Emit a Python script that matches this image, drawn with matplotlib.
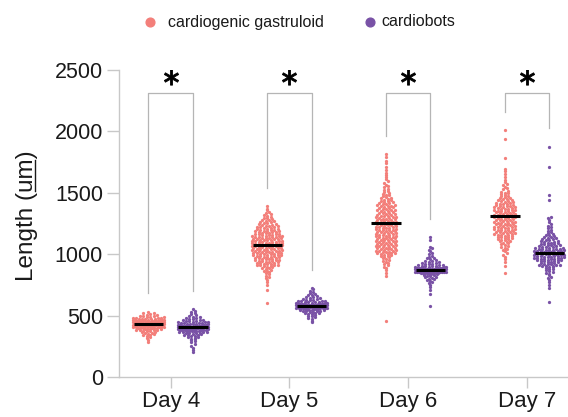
import numpy as np
import matplotlib.pyplot as plt
from matplotlib.lines import Line2D

plt.rcParams['font.family'] = ['Liberation Sans', 'DejaVu Sans']

days = ['Day 4', 'Day 5', 'Day 6', 'Day 7']
labels = ['cardiogenic gastruloid', 'cardiobots']
colors = ['#F37F7A', '#7952A6']

d4_gastruloid = [288, 302, 315, 324, 332, 339, 345, 350, 354, 358, 362, 366, 369, 372, 375, 378,
                 380, 382, 384, 386, 388, 390, 392, 393, 395, 397, 398, 400, 401, 403, 404, 405,
                 407, 408, 409, 411, 412, 413, 414, 416, 417, 418, 419, 420, 421, 422, 423, 424,
                 425, 426, 427, 428, 429, 430, 431, 432, 433, 434, 435, 436, 437, 438, 439, 440,
                 441, 442, 443, 444, 445, 446, 447, 448, 449, 450, 451, 452, 453, 454, 455, 456,
                 457, 458, 459, 460, 461, 463, 464, 465, 467, 468, 470, 471, 473, 474, 476, 478,
                 479, 481, 483, 486, 488, 491, 494, 497, 500, 504, 508, 513, 519, 525, 531]
d4_cardiobots = [206, 222, 240, 256, 270, 282, 291, 299, 306, 312, 318, 323, 328, 332, 336, 340,
                 343, 346, 349, 352, 355, 357, 359, 361, 363, 365, 367, 369, 371, 372, 374, 375,
                 377, 378, 380, 381, 383, 384, 385, 386, 388, 389, 390, 391, 392, 393, 394, 395,
                 396, 397, 398, 399, 400, 401, 402, 403, 404, 405, 406, 407, 408, 409, 410, 411,
                 412, 413, 414, 415, 416, 417, 418, 419, 420, 421, 423, 424, 425, 427, 428, 430,
                 431, 433, 434, 436, 438, 440, 442, 444, 446, 448, 450, 453, 455, 458, 461, 464,
                 467, 470, 474, 478, 482, 487, 492, 498, 505, 512, 520, 530, 541, 554]
d5_gastruloid = [605, 708, 748, 772, 790, 803, 815, 826, 836, 845, 853, 860, 867, 873, 879, 884,
                 889, 894, 898, 902, 905, 908, 911, 913, 916, 919, 921, 924, 927, 929, 932, 935,
                 937, 940, 942, 945, 947, 950, 952, 955, 957, 960, 962, 964, 967, 969, 971, 974,
                 976, 978, 981, 983, 985, 987, 990, 992, 994, 996, 998, 1000, 1003, 1005, 1007,
                 1009, 1011, 1013, 1015, 1017, 1019, 1021, 1023, 1025, 1027, 1029, 1031, 1033,
                 1035, 1037, 1039, 1041, 1043, 1045, 1047, 1049, 1051, 1053, 1055, 1057, 1059,
                 1061, 1063, 1065, 1067, 1069, 1071, 1073, 1075, 1077, 1079, 1081, 1083, 1085,
                 1087, 1089, 1091, 1093, 1095, 1097, 1099, 1101, 1103, 1105, 1107, 1109, 1111,
                 1113, 1115, 1117, 1119, 1121, 1123, 1125, 1127, 1129, 1131, 1133, 1135, 1137,
                 1139, 1141, 1143, 1145, 1147, 1149, 1152, 1154, 1156, 1159, 1161, 1163, 1166,
                 1168, 1170, 1173, 1175, 1177, 1180, 1182, 1185, 1187, 1190, 1192, 1195, 1197,
                 1200, 1203, 1206, 1209, 1212, 1215, 1218, 1221, 1224, 1227, 1230, 1233, 1236,
                 1240, 1243, 1247, 1251, 1255, 1259, 1263, 1267, 1271, 1276, 1281, 1286, 1291,
                 1297, 1303, 1310, 1317, 1325, 1334, 1344, 1356, 1372, 1392]
d5_cardiobots = [448, 460, 470, 479, 487, 494, 500, 505, 510, 514, 518, 522, 525, 528, 531, 534,
                 537, 539, 541, 543, 545, 547, 549, 551, 552, 554, 555, 557, 558, 559, 560, 561,
                 562, 563, 564, 565, 566, 567, 568, 569, 570, 571, 572, 573, 574, 575, 576, 577,
                 578, 579, 580, 581, 582, 583, 584, 585, 586, 587, 588, 589, 590, 591, 592, 593,
                 594, 595, 596, 597, 598, 600, 601, 603, 604, 606, 607, 609, 611, 613, 615, 617,
                 619, 621, 624, 627, 630, 633, 636, 640, 644, 648, 653, 658, 664, 670, 677, 685,
                 694, 704, 714, 725]
d6_gastruloid = [456, 822, 848, 868, 884, 898, 910, 921, 931, 940, 948, 955, 962, 968, 974, 979,
                 984, 988, 992, 996, 1000, 1003, 1006, 1009, 1012, 1015, 1018, 1021, 1024, 1027,
                 1030, 1033, 1036, 1039, 1042, 1045, 1048, 1051, 1054, 1057, 1060, 1063, 1066,
                 1069, 1072, 1075, 1078, 1081, 1084, 1087, 1090, 1093, 1096, 1099, 1101, 1104,
                 1107, 1110, 1113, 1116, 1119, 1122, 1125, 1128, 1131, 1134, 1137, 1140, 1143,
                 1146, 1149, 1151, 1154, 1157, 1160, 1163, 1166, 1169, 1172, 1175, 1178, 1181,
                 1184, 1187, 1190, 1193, 1196, 1199, 1201, 1204, 1207, 1210, 1213, 1216, 1219,
                 1222, 1225, 1228, 1231, 1234, 1237, 1240, 1243, 1246, 1249, 1251, 1254, 1257,
                 1260, 1263, 1266, 1269, 1272, 1275, 1278, 1281, 1284, 1287, 1290, 1293, 1296,
                 1299, 1302, 1305, 1308, 1311, 1314, 1318, 1321, 1325, 1328, 1332, 1335, 1339,
                 1343, 1347, 1351, 1354, 1357, 1361, 1364, 1368, 1371, 1375, 1378, 1382, 1385,
                 1389, 1392, 1396, 1399, 1403, 1407, 1411, 1415, 1419, 1423, 1427, 1431, 1435,
                 1440, 1445, 1450, 1455, 1461, 1467, 1473, 1479, 1486, 1493, 1500, 1508, 1516,
                 1525, 1534, 1544, 1555, 1567, 1580, 1594, 1609, 1625, 1643, 1663, 1686, 1712,
                 1740, 1760, 1790, 1816]
d6_cardiobots = [578, 676, 712, 735, 750, 762, 772, 781, 789, 796, 802, 808, 813, 818, 822, 826,
                 830, 833, 836, 839, 842, 844, 845, 846, 847, 848, 849, 850, 851, 852, 853, 854,
                 855, 856, 857, 858, 859, 860, 861, 862, 863, 864, 865, 866, 867, 868, 869, 870,
                 871, 872, 873, 874, 875, 876, 877, 878, 879, 880, 881, 882, 883, 884, 885, 886,
                 887, 888, 889, 890, 891, 892, 894, 896, 898, 900, 902, 904, 906, 908, 911, 914,
                 917, 920, 923, 926, 930, 934, 938, 943, 948, 953, 959, 965, 972, 980, 989, 999,
                 1010, 1022, 1035, 1048, 1060, 1115, 1140]
d7_gastruloid = [850, 905, 938, 962, 981, 997, 1011, 1023, 1034, 1044, 1053, 1061, 1069, 1076,
                 1083, 1089, 1095, 1100, 1104, 1108, 1112, 1116, 1120, 1124, 1128, 1132, 1136,
                 1140, 1144, 1148, 1151, 1154, 1157, 1160, 1163, 1166, 1169, 1172, 1175, 1178,
                 1181, 1184, 1187, 1190, 1193, 1196, 1199, 1201, 1204, 1207, 1210, 1213, 1216,
                 1219, 1222, 1225, 1228, 1231, 1234, 1237, 1240, 1243, 1246, 1249, 1251, 1254,
                 1257, 1260, 1263, 1266, 1269, 1272, 1275, 1278, 1281, 1284, 1287, 1290, 1293,
                 1296, 1299, 1301, 1304, 1307, 1310, 1313, 1316, 1319, 1322, 1325, 1328, 1331,
                 1334, 1337, 1340, 1343, 1346, 1349, 1351, 1354, 1357, 1360, 1363, 1366, 1369,
                 1372, 1375, 1378, 1381, 1384, 1387, 1390, 1393, 1396, 1399, 1402, 1405, 1409,
                 1412, 1416, 1419, 1423, 1426, 1430, 1434, 1438, 1442, 1446, 1450, 1455, 1460,
                 1465, 1470, 1476, 1482, 1488, 1495, 1502, 1510, 1518, 1527, 1537, 1548, 1560,
                 1574, 1590, 1608, 1630, 1655, 1675, 1690, 1783, 1938, 2011]
d7_cardiobots = [613, 725, 750, 772, 790, 805, 818, 829, 839, 848, 856, 863, 870, 876, 882, 887,
                 892, 897, 900, 903, 906, 909, 912, 915, 918, 921, 924, 927, 930, 933, 936, 939,
                 942, 945, 948, 950, 952, 954, 956, 958, 960, 962, 964, 966, 968, 970, 972, 974,
                 976, 978, 980, 982, 984, 986, 988, 990, 992, 994, 996, 998, 1000, 1002, 1004,
                 1006, 1008, 1010, 1012, 1014, 1016, 1018, 1020, 1022, 1024, 1026, 1028, 1030,
                 1032, 1034, 1036, 1038, 1040, 1042, 1044, 1046, 1048, 1050, 1053, 1056, 1059,
                 1062, 1065, 1068, 1071, 1074, 1077, 1080, 1083, 1086, 1089, 1092, 1095, 1098,
                 1101, 1105, 1109, 1113, 1117, 1121, 1125, 1129, 1133, 1138, 1143, 1148, 1154,
                 1160, 1167, 1174, 1182, 1191, 1200, 1210, 1221, 1233, 1246, 1260, 1276, 1292,
                 1305, 1441, 1482, 1710, 1875]

gastruloid_mean = [430, 1078, 1258, 1310]
cardiobots_mean = [408, 578, 872, 1010]

groups = [[d4_gastruloid, d4_cardiobots], [d5_gastruloid, d5_cardiobots],
          [d6_gastruloid, d6_cardiobots], [d7_gastruloid, d7_cardiobots]]
means = [gastruloid_mean, cardiobots_mean]


def swarm_x(vals, center, row_h=19.5, step=0.029, half=0.128):
    # spread points sharing a row sideways, Prism style, capped width
    vals = np.asarray(vals, float)
    xs = np.full(len(vals), float(center))
    rows = np.floor(vals / row_h)
    for r in np.unique(rows):
        idx = np.where(rows == r)[0]
        n = len(idx)
        if n < 2:
            continue
        d = min(step, 2 * half / (n - 1))
        offs = (np.arange(n) - (n - 1) / 2) * d
        offs = offs[np.argsort(np.abs(offs), kind='stable')]
        xs[idx] = center + offs
    return xs


fig = plt.figure(figsize=(5.68, 4.17), dpi=100)
ax = fig.add_axes([119 / 568, 40 / 417, 449 / 568, 307 / 417])

dodge = 0.187
for i in range(len(days)):
    tops = []
    for j in range(2):
        xc = i + (j - 0.5) * 2 * dodge
        vals = groups[i][j]
        ax.scatter(swarm_x(vals, xc), vals, s=5.5, color=colors[j], linewidths=0, zorder=2)
        ax.hlines(means[j][i], xc - 0.124, xc + 0.124, color='black', lw=2.2, zorder=3)
        tops.append((xc, max(vals) + 150))
    (xl, yl), (xr, yr) = tops
    ax.plot([xl, xl, xr, xr], [yl, 2310, 2310, yr], color='#B5B5B5', lw=0.9, zorder=1)
    ax.plot([i], [2445], marker=r'$\ast$', markersize=11, color='black',
            markeredgewidth=0.6, zorder=4)

ax.set_xlim(-0.435, 3.345)
ax.set_ylim(0, 2500)
ax.set_xticks(range(len(days)))
ax.set_xticklabels(days)
ax.set_yticks([0, 500, 1000, 1500, 2000, 2500])
for side in ['top', 'right']:
    ax.spines[side].set_visible(False)
for side in ['left', 'bottom']:
    ax.spines[side].set_color('#C8C8C8')
    ax.spines[side].set_linewidth(1.0)
ax.tick_params(axis='x', length=8, width=1, color='#C8C8C8', labelsize=16, pad=2,
               labelcolor='#1a1a1a')
ax.tick_params(axis='y', length=8.5, width=1, color='#C8C8C8', labelsize=15.5, pad=3,
               labelcolor='#1a1a1a')

# y label with underlined unit
lab_fs = 17.5
lab = fig.text(27 / 568, 1 - 216 / 417, 'Length (um)', rotation=90, fontsize=lab_fs,
               ha='center', va='center', color='#1a1a1a')
fig.canvas.draw()
r = fig.canvas.get_renderer()
bb = lab.get_window_extent(r)
w_pre = fig.text(0, 0, 'Length (', fontsize=lab_fs).get_window_extent(r).width
w_um = fig.text(0, 0, 'Length (um', fontsize=lab_fs).get_window_extent(r).width
for t in fig.texts[-2:]:
    t.remove()
full_w = fig.text(0, 0, 'Length (um)', fontsize=lab_fs)
fw = full_w.get_window_extent(r).width
full_w.remove()
y0 = bb.y0 + (bb.height - fw) / 2
ux = bb.x1 - 3
fig.add_artist(Line2D([ux / 568, ux / 568], [(y0 + w_pre + 1) / 417, (y0 + w_um - 1) / 417],
                      color='#1a1a1a', lw=1.0, transform=fig.transFigure))

# legend drawn by hand
leg_y = 1 - 22 / 417
for j, (mx, tx) in enumerate([(150, 168), (370, 381)]):
    fig.add_artist(Line2D([mx / 568], [leg_y], marker='o', markersize=6.3, color=colors[j],
                          linestyle='none', transform=fig.transFigure))
    fig.text(tx / 568, leg_y, labels[j], fontsize=11.5, va='center', ha='left', color='#1a1a1a')

fig.savefig('out.png', dpi=100)
